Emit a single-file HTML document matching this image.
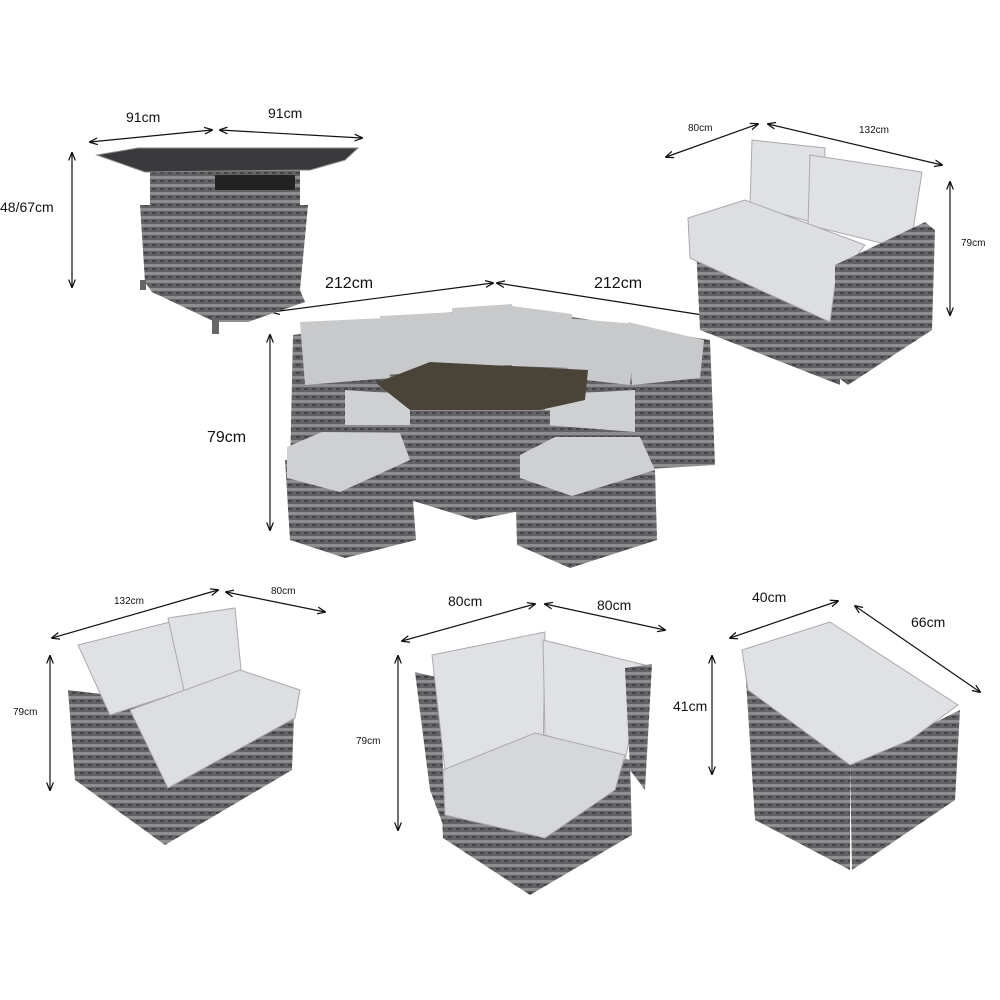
<!DOCTYPE html>
<html><head><meta charset="utf-8"><style>
html,body{margin:0;padding:0;background:#fff;}
svg{display:block}
text{font-family:"Liberation Sans",sans-serif;fill:#111;}
</style></head><body>
<svg width="1000" height="1000" viewBox="0 0 1000 1000" xmlns="http://www.w3.org/2000/svg">
<defs>
<marker id="a" viewBox="0 0 10 10" refX="9" refY="5" markerWidth="7" markerHeight="7" orient="auto-start-reverse"><path d="M0,1 L10,5 L0,9" fill="none" stroke="#111" stroke-width="1.5"/></marker>
<pattern id="w" width="8" height="8" patternUnits="userSpaceOnUse"><rect width="8" height="8" fill="#626265"/><rect width="8" height="3" fill="#8e8e91"/><rect x="0" y="4" width="4" height="2" fill="#46464a"/></pattern>
</defs>
<g stroke="#111" stroke-width="1.2" fill="none" marker-start="url(#a)" marker-end="url(#a)">
<line x1="90" y1="142" x2="212" y2="130"/><line x1="220" y1="130" x2="362" y2="138"/>
<line x1="72" y1="153" x2="72" y2="287"/>
<line x1="666" y1="157" x2="758" y2="124"/><line x1="768" y1="124" x2="942" y2="165"/>
<line x1="950" y1="182" x2="950" y2="315"/>
<line x1="272" y1="312" x2="493" y2="283"/><line x1="497" y1="283" x2="722" y2="318"/>
<line x1="270" y1="335" x2="270" y2="530"/>
<line x1="52" y1="638" x2="218" y2="590"/><line x1="226" y1="592" x2="325" y2="612"/>
<line x1="50" y1="656" x2="50" y2="790"/>
<line x1="402" y1="641" x2="535" y2="604"/><line x1="545" y1="604" x2="665" y2="630"/>
<line x1="398" y1="656" x2="398" y2="830"/>
<line x1="730" y1="638" x2="838" y2="601"/><line x1="855" y1="606" x2="980" y2="692"/>
<line x1="712" y1="656" x2="712" y2="774"/>
</g>
<g font-size="14">
<text x="126" y="122">91cm</text><text x="268" y="118">91cm</text>
<text x="0" y="212">48/67cm</text>
<text x="325" y="288" font-size="16">212cm</text><text x="594" y="288" font-size="16">212cm</text>
<text x="207" y="442" font-size="16">79cm</text>
<text x="448" y="606">80cm</text><text x="597" y="610">80cm</text>
<text x="752" y="602">40cm</text><text x="911" y="627">66cm</text>
<text x="673" y="711">41cm</text>
</g>
<g font-size="10">
<text x="688" y="131">80cm</text><text x="859" y="133">132cm</text><text x="961" y="246">79cm</text>
<text x="114" y="604">132cm</text><text x="271" y="594">80cm</text><text x="13" y="715">79cm</text>
<text x="356" y="744">79cm</text>
</g>
<!-- table -->
<polygon points="150,168 300,168 300,205 150,205" fill="url(#w)"/>
<rect x="215" y="175" width="80" height="15" fill="#222"/>
<polygon points="97,155 138,148 358,148 345,160 310,170 145,172" fill="#3a3a3c" stroke="#888"/>
<polygon points="140,205 308,205 300,290 305,302 248,322 215,322 152,292 145,282" fill="url(#w)"/>
<rect x="212" y="318" width="7" height="16" fill="#666"/><rect x="140" y="280" width="6" height="10" fill="#666"/>
<!-- top right sofa -->
<polygon points="695,225 840,270 840,385 700,330" fill="url(#w)"/>
<polygon points="752,140 825,148 822,225 750,205" fill="#dfe1e5" stroke="#aaa"/>
<polygon points="810,155 922,172 910,250 808,225" fill="#dfe1e5" stroke="#aaa"/>
<polygon points="688,218 745,200 865,245 835,285 830,322 690,258" fill="#dcdee2" stroke="#aaa"/>
<polygon points="835,265 925,222 935,230 932,330 848,385 835,375" fill="url(#w)"/>
<!-- centre set -->
<polygon points="293,335 500,305 710,340 715,465 630,470 420,470 290,470" fill="url(#w)"/>
<polygon points="300,322 385,318 390,378 305,385" fill="#c8c9cb"/><polygon points="380,316 455,312 460,370 385,375" fill="#c8c9cb"/>
<polygon points="452,308 512,304 515,365 455,368" fill="#c8c9cb"/><polygon points="512,306 572,314 570,368 512,366" fill="#c8c9cb"/>
<polygon points="566,318 636,324 630,385 568,378" fill="#c8c9cb"/><polygon points="628,322 704,340 700,378 632,385" fill="#c8c9cb"/>
<polygon points="345,390 420,395 420,425 345,425" fill="#cfd0d2"/><polygon points="545,395 635,390 635,432 545,425" fill="#cfd0d2"/>
<polygon points="376,383 430,362 588,370 585,400 540,410 410,410" fill="#4a4438"/>
<polygon points="410,410 550,410 550,500 475,520 410,500" fill="url(#w)"/>
<polygon points="416,480 515,480 515,565 416,565" fill="#fff"/>
<polygon points="410,470 550,470 550,505 475,520 410,500" fill="url(#w)"/>
<polygon points="285,460 410,460 416,540 345,558 290,540" fill="url(#w)"/>
<polygon points="287,447 322,432 400,433 410,460 340,492 287,478" fill="#cfd0d2"/>
<polygon points="515,470 655,470 657,540 570,568 517,545" fill="url(#w)"/>
<polygon points="520,455 555,437 640,437 655,470 572,496 520,478" fill="#cfd0d2"/>
<!-- bottom left sofa -->
<polygon points="68,690 150,700 165,845 75,780" fill="url(#w)"/>
<polygon points="150,730 295,690 292,770 165,845" fill="url(#w)"/>
<polygon points="78,645 170,622 186,690 110,715" fill="#dfe1e5" stroke="#aaa"/>
<polygon points="168,618 235,608 242,680 185,695" fill="#dfe1e5" stroke="#aaa"/>
<polygon points="130,710 240,670 300,690 295,718 168,788" fill="#dcdee2" stroke="#aaa"/>
<!-- bottom mid chair -->
<polygon points="415,672 440,678 445,830 430,790" fill="url(#w)"/>
<polygon points="440,770 535,740 630,760 632,835 530,895 443,838" fill="url(#w)"/>
<polygon points="432,655 545,632 543,765 445,770" fill="#dfe1e5" stroke="#aaa"/>
<polygon points="543,640 645,665 625,760 545,735" fill="#dfe1e5" stroke="#aaa"/>
<polygon points="443,770 535,733 625,755 615,790 545,838 445,815" fill="#d5d7db" stroke="#aaa"/>
<polygon points="625,668 652,664 645,790 630,770" fill="url(#w)"/>
<!-- ottoman -->
<polygon points="745,665 850,765 850,870 755,820" fill="url(#w)"/>
<polygon points="850,765 960,710 955,800 852,870" fill="url(#w)"/>
<polygon points="742,650 830,622 958,705 910,740 850,765 748,690" fill="#dfe1e5" stroke="#aaa"/>
</svg>
</body></html>
